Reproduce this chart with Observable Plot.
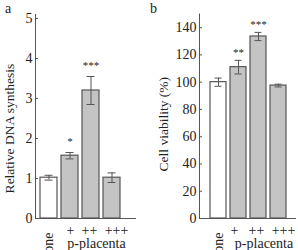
<!DOCTYPE html>
<html><head><meta charset="utf-8">
<script src="https://cdn.jsdelivr.net/npm/d3@7"></script>
<script src="https://cdn.jsdelivr.net/npm/@observablehq/plot@0.6"></script>
<style>
body{margin:0;background:#fff;}
#wrap{position:relative;width:298px;height:250px;overflow:hidden;font-family:"Liberation Serif",serif;}
.panel{position:absolute;top:0;}
.panel svg, .panel svg text{font-family:"Liberation Serif",serif !important;}
.letter{position:absolute;font-size:14px;line-height:1;color:#222;font-family:"Liberation Serif",serif;}
</style></head><body><div id="wrap"></div>
<script>
const categories = ["none", "+", "++", "+++"];
const dnaValues = [1.02, 1.57, 3.2, 1.02];
const dnaErrors = [0.06, 0.08, 0.35, 0.12];
const dnaStars = ["", "*", "***", ""];
const viabilityValues = [100, 111, 133.5, 97.5];
const viabilityErrors = [3, 5, 3, 1];
const viabilityStars = ["", "**", "***", ""];
const dnaTicks = [0, 1, 2, 3, 4, 5];
const viabilityTicks = [0, 20, 40, 60, 80, 100, 120, 140];
const groupLabel = "p-placenta";
const dnaLabel = "Relative DNA synthesis";
const viabilityLabel = "Cell viability (%)";

const ink = "#555";
const txt = "#222";
const font = "Liberation Serif";

function panel({values, errors, stars, ticks, domain, label, marginLeft, marginTop, marginRight, xRange, labelDx, labelDy, starDy, catDx}) {
  const rows = categories.map((c, i) => ({cat: c, v: values[i], e: errors[i], s: stars[i]}));
  const catMarks = rows.slice(1).map((r, i) =>
    Plot.text([r], {x: "cat", frameAnchor: "bottom", text: "cat", lineAnchor: "top", dy: 7, dx: catDx[i], fontSize: 14, fill: txt, fontFamily: font}));
  return Plot.plot({
    width: 149, height: 250,
    marginLeft, marginTop, marginRight, marginBottom: 32,
    style: {fontFamily: font, fontSize: "14px", background: "transparent", color: txt},
    x: {type: "band", domain: categories, range: xRange, paddingInner: 0.2, paddingOuter: 0, axis: null},
    y: {domain, axis: null},
    marks: [
      Plot.barY(rows, {x: "cat", y: "v", fill: d => d.cat === "none" ? "#ffffff" : "#c4c4c4", stroke: ink, strokeWidth: 1.2}),
      Plot.ruleX(rows, {x: "cat", y1: d => d.v - d.e, y2: d => d.v + d.e, stroke: ink}),
      Plot.tickY(rows, {x: "cat", y: d => d.v + d.e, stroke: ink, insetLeft: 4.5, insetRight: 4.5}),
      Plot.tickY(rows, {x: "cat", y: d => d.v - d.e, stroke: ink, insetLeft: 4.5, insetRight: 4.5}),
      Plot.text(rows, {x: "cat", y: d => d.v + d.e, text: "s", lineAnchor: "bottom", dy: starDy, fontSize: 11, fill: txt, fontFamily: font}),
      Plot.frame({anchor: "left", stroke: ink}),
      Plot.frame({anchor: "bottom", stroke: ink}),
      Plot.axisY(ticks, {label: null, tickSize: -3, tickPadding: 6, stroke: ink, fill: txt, fontSize: 14, fontFamily: font}),
      ...catMarks,
      Plot.text(rows.slice(0, 1), {x: "cat", frameAnchor: "bottom", text: "cat", rotate: -90, textAnchor: "end", lineAnchor: "middle", dy: 14, fontSize: 14, fill: txt, fontFamily: font}),
      Plot.text([groupLabel], {x: () => "++", frameAnchor: "bottom", text: d => d, lineAnchor: "top", textAnchor: "middle", dy: 19.5, dx: 5.5, fontSize: 14, fill: txt, fontFamily: font}),
      Plot.text([label], {frameAnchor: "left", text: d => d, rotate: -90, textAnchor: "middle", lineAnchor: "middle", dx: labelDx, dy: labelDy, fontSize: 13.5, fill: txt, fontFamily: font})
    ]
  });
}

const wrap = document.getElementById("wrap");
const a = panel({values: dnaValues, errors: dnaErrors, stars: dnaStars, ticks: dnaTicks, domain: [0, 5.1], label: dnaLabel,
  marginLeft: 35, marginTop: 14, marginRight: 14, xRange: [40, 120], labelDx: -26, labelDy: 12, starDy: -8, catDx: [0.5, -1.5, 4.5]});
const b = panel({values: viabilityValues, errors: viabilityErrors, stars: viabilityStars, ticks: viabilityTicks, domain: [0, 150], label: viabilityLabel,
  marginLeft: 50, marginTop: 13.5, marginRight: 3, xRange: [60, 138], labelDx: -36, labelDy: 8, starDy: -4, catDx: [-4, -2, 5]});
const da = document.createElement("div"); da.className = "panel"; da.style.left = "0px"; da.appendChild(a); wrap.appendChild(da);
const db = document.createElement("div"); db.className = "panel"; db.style.left = "149px"; db.appendChild(b); wrap.appendChild(db);
const la = document.createElement("div"); la.className = "letter"; la.textContent = "a"; la.style.left = "5px"; la.style.top = "2px"; wrap.appendChild(la);
const lb = document.createElement("div"); lb.className = "letter"; lb.textContent = "b"; lb.style.left = "150px"; lb.style.top = "2px"; wrap.appendChild(lb);
</script></body></html>
